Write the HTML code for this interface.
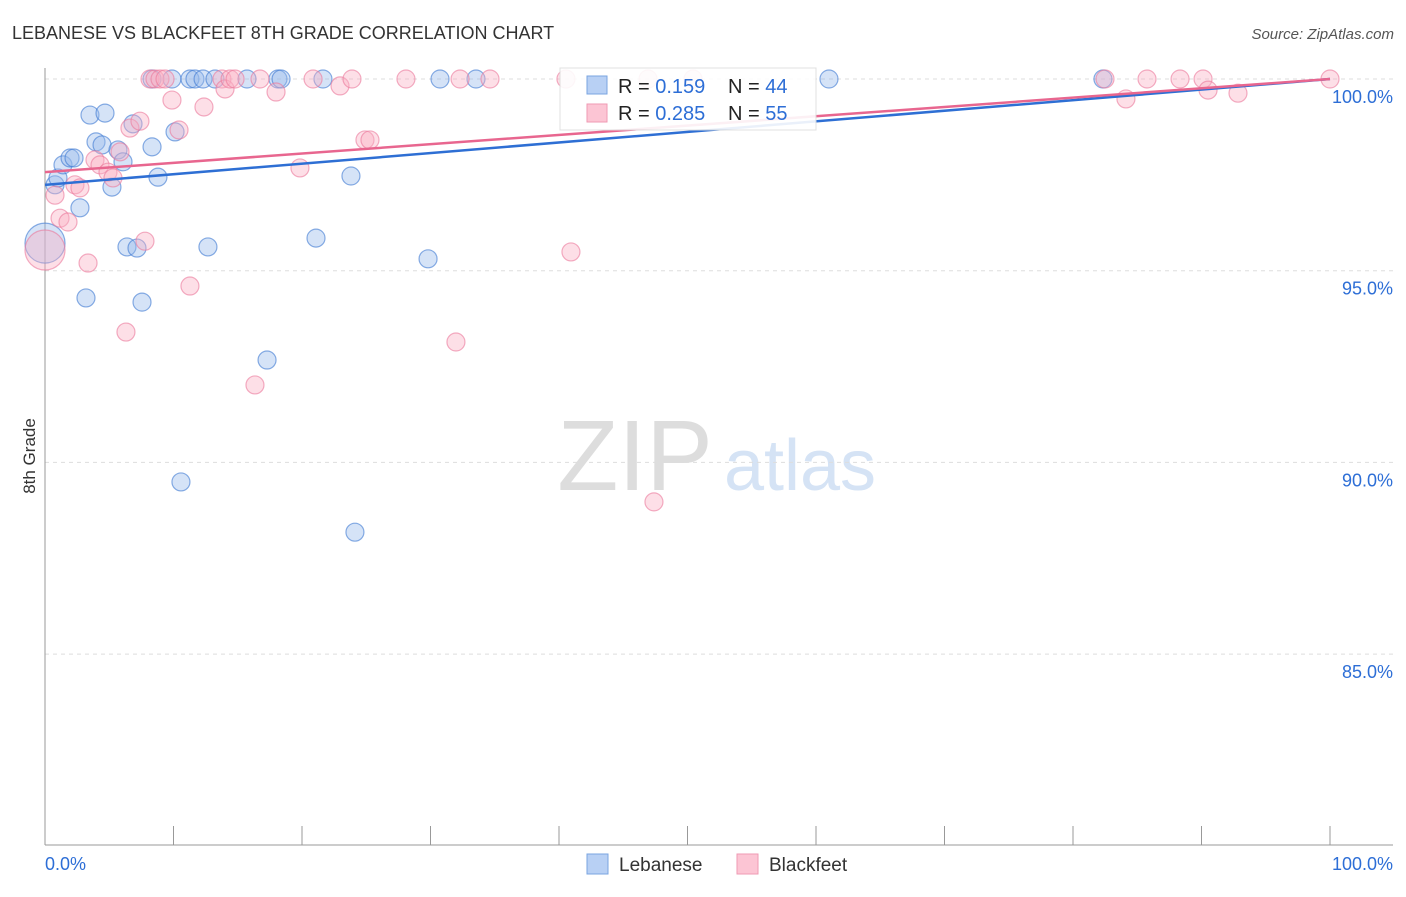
<!DOCTYPE html>
<html><head><meta charset="utf-8"><style>
body{margin:0;background:#fff;font-family:"Liberation Sans",sans-serif;}
svg text{font-family:"Liberation Sans",sans-serif;}
</style></head><body>
<svg id="chart" width="1406" height="892" xmlns="http://www.w3.org/2000/svg">
<text x="12" y="39" font-size="18" fill="#333">LEBANESE VS BLACKFEET 8TH GRADE CORRELATION CHART</text>
<text x="1394" y="39" font-size="15" fill="#555" font-style="italic" text-anchor="end">Source: ZipAtlas.com</text>
<text x="35" y="456" font-size="17" fill="#333" transform="rotate(-90 35 456)" text-anchor="middle">8th Grade</text>
<g>
<text x="635" y="490" font-size="100" fill="#ddd" text-anchor="middle" font-family="Liberation Serif,serif">ZIP</text>
<text x="800" y="490" font-size="72" fill="#d5e3f5" text-anchor="middle">atlas</text>
</g>
<g id="grid"></g><g id="axes"></g><g id="pts"></g><g id="trends"></g>
<g>
<rect x="560" y="68" width="256" height="62" fill="#fff" stroke="#ddd" opacity="0.9"/>
<rect x="587" y="76" width="20" height="18" fill="#b8d0f4" stroke="#7aa4e0"/>
<rect x="587" y="104" width="20" height="18" fill="#fcc5d4" stroke="#ef9ab3"/>
<text x="618" y="93" font-size="20" fill="#222">R = <tspan fill="#2d6ed6">0.159</tspan></text>
<text x="728" y="93" font-size="20" fill="#222">N = <tspan fill="#2d6ed6">44</tspan></text>
<text x="618" y="120" font-size="20" fill="#222">R = <tspan fill="#2d6ed6">0.285</tspan></text>
<text x="728" y="120" font-size="20" fill="#222">N = <tspan fill="#2d6ed6">55</tspan></text>
</g>
<g>
<rect x="587" y="854" width="21" height="20" fill="#b8d0f4" stroke="#7aa4e0"/>
<text x="619" y="871" font-size="19" fill="#333">Lebanese</text>
<rect x="737" y="854" width="21" height="20" fill="#fcc5d4" stroke="#ef9ab3"/>
<text x="769" y="871" font-size="19" fill="#333">Blackfeet</text>
</g>
</svg>
<script>
const yTicks=[100,95,90,85];
const xTickLabels=["0.0%","100.0%"];
const lebX=[0,0.78,1.01,1.4,1.95,2.26,2.72,3.19,3.5,3.97,4.44,4.67,5.21,5.68,6.07,6.38,6.85,7.16,7.55,8.33,8.79,8.33,9.88,10.12,10.58,11.28,11.67,12.3,12.68,13.23,15.72,17.28,18.13,18.37,21.09,21.63,23.81,24.12,29.81,30.74,33.54,61.01,82.33];
const lebY=[95.72,97.24,97.42,97.76,97.94,97.94,96.64,94.29,99.06,98.36,98.28,99.11,97.18,98.15,97.84,95.62,98.83,95.59,94.18,98.23,97.44,100,100,98.62,89.49,100,100,100,95.62,100,100,92.67,100,100,95.85,100,97.47,88.18,95.31,100,100,100,100];
const lebR=[20,9,9,9,9,9,9,9,9,9,9,9,9,9,9,9,9,9,9,9,9,9,9,9,9,9,9,9,9,9,9,9,9,9,9,9,9,9,9,9,9,9,9];
const blkX=[0,0.78,1.17,1.79,2.33,2.72,3.35,3.89,4.28,4.9,5.29,5.84,6.3,6.61,7.39,7.78,8.17,8.56,8.95,9.34,9.88,10.43,11.28,12.37,13.77,14.01,14.4,14.79,16.34,16.73,17.98,19.84,20.86,22.96,23.89,24.9,25.29,28.09,31.98,32.3,34.63,40.54,40.93,47.39,46.93,50.43,84.12,85.76,88.33,90.12,90.51,92.84,100,82.49];
const blkY=[95.54,96.97,96.37,96.27,97.24,97.16,95.2,97.89,97.76,97.57,97.42,98.1,93.4,98.72,98.9,95.77,100,100,100,100,99.45,98.67,94.6,99.27,100,99.74,100,100,92.02,100,99.66,97.68,100,99.82,100,98.41,98.41,100,93.14,100,100,100,95.49,88.97,100,100,99.48,100,100,100,99.71,99.63,100,100];
const trendX=[0,100];
const lebTrend=[97.24,100];
const blkTrend=[97.57,100];
const X=v=>45+v*12.85, Y=v=>79+(100-v)*38.34;
const NS="http://www.w3.org/2000/svg";
function mk(t,a,p){const e=document.createElementNS(NS,t);for(const k in a)e.setAttribute(k,a[k]);p.appendChild(e);return e;}
const grid=document.getElementById('grid'),axes=document.getElementById('axes');
mk('line',{x1:45,x2:1393,y1:Y(100),y2:Y(100),stroke:'#ddd','stroke-dasharray':'4,4'},grid);
yTicks.forEach(t=>{
 const l=mk('line',{x1:45,x2:1393,y1:Y(t),y2:Y(t),stroke:'#ddd','stroke-dasharray':'4,4'},grid);
 
 
 const tx=mk('text',{x:1393,y:Y(t)+24,'font-size':18,fill:'#2d6ed6','text-anchor':'end'},axes);
 tx.textContent=t.toFixed(1)+'%';
 
 
});
mk('line',{x1:45,x2:45,y1:68,y2:845,stroke:'#999'},axes);
mk('line',{x1:45,x2:1393,y1:845,y2:845,stroke:'#999'},axes);
for(let i=0;i<=10;i++){const x=45+i*128.5;mk('line',{x1:x,x2:x,y1:826,y2:845,stroke:'#999'},axes);}
[[0,45,'start'],[1,1393,'end']].forEach(([i,x,a])=>{
 const t=mk('text',{x:x,y:870,'font-size':18,fill:'#2d6ed6','text-anchor':a},axes);
 t.textContent=xTickLabels[i];
 
 
});
const pts=document.getElementById('pts');
lebX.forEach((v,i)=>{
 const c=mk('circle',{cx:X(v),cy:Y(lebY[i]),r:lebR[i],fill:'rgba(150,185,235,0.4)',stroke:'rgba(60,120,210,0.6)','stroke-width':1.2},pts);
 
 
});
blkX.forEach((v,i)=>{
 const c=mk('circle',{cx:X(v),cy:Y(blkY[i]),r:i==0?20:9,fill:'rgba(250,175,195,0.4)',stroke:'rgba(235,120,155,0.6)','stroke-width':1.2},pts);
 
 
});
const tr=document.getElementById('trends');
const l1=mk('line',{x1:X(trendX[0]),y1:Y(lebTrend[0]),x2:X(trendX[1]),y2:Y(lebTrend[1]),stroke:'#2e6fd4','stroke-width':2.5},tr);


const l2=mk('line',{x1:X(trendX[0]),y1:Y(blkTrend[0]),x2:X(trendX[1]),y2:Y(blkTrend[1]),stroke:'#e8668f','stroke-width':2.5},tr);


</script>
</body></html>
